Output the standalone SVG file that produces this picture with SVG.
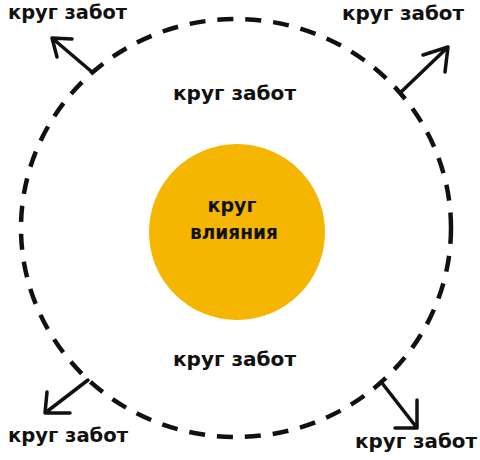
<svg xmlns="http://www.w3.org/2000/svg" width="480" height="460" viewBox="0 0 480 460">
<style>
.t{font-family:"DejaVu Sans","Liberation Sans",sans-serif;font-weight:bold;font-size:19px;fill:#111;}
.a{fill:none;stroke:#111;stroke-width:3.5;stroke-linecap:round;stroke-linejoin:round;}
</style>
<rect width="480" height="460" fill="#fff"/>
<g id="outer-circle">
<ellipse cx="236" cy="228" rx="215" ry="209" fill="none" stroke="#111" stroke-width="4.5" stroke-dasharray="16 12"/>
<text class="t" x="173" y="100" textLength="123" lengthAdjust="spacingAndGlyphs">круг забот</text>
<text class="t" x="173" y="366" textLength="123" lengthAdjust="spacingAndGlyphs">круг забот</text>
</g>
<g id="inner-circle">
<circle cx="237" cy="232" r="88" fill="#F4B600"/>
<text class="t" x="232" y="212" text-anchor="middle">круг</text>
<text class="t" x="234" y="239" text-anchor="middle" textLength="88" lengthAdjust="spacingAndGlyphs">влияния</text>
</g>
<g id="label-tl"><text class="t" x="8" y="19" textLength="119" lengthAdjust="spacingAndGlyphs">круг забот</text></g>
<g id="label-tr"><text class="t" x="342" y="20" textLength="122" lengthAdjust="spacingAndGlyphs">круг забот</text></g>
<g id="label-bl"><text class="t" x="8" y="442" textLength="120" lengthAdjust="spacingAndGlyphs">круг забот</text></g>
<g id="label-br"><text class="t" x="355" y="448" textLength="122" lengthAdjust="spacingAndGlyphs">круг забот</text></g>
<g id="connectors">
<path class="a" d="M92 72 L52 38 M72 39 L52 38 L57 57"/>
<path class="a" d="M400 93 L448 47 M423 55 L448 47 L445 72"/>
<path class="a" d="M88 380 L45 413 M47 392 L45 413 L70 413"/>
<path class="a" d="M382 383 L417 428 M417 400 L417 428 L395 428"/>
</g>
</svg>
